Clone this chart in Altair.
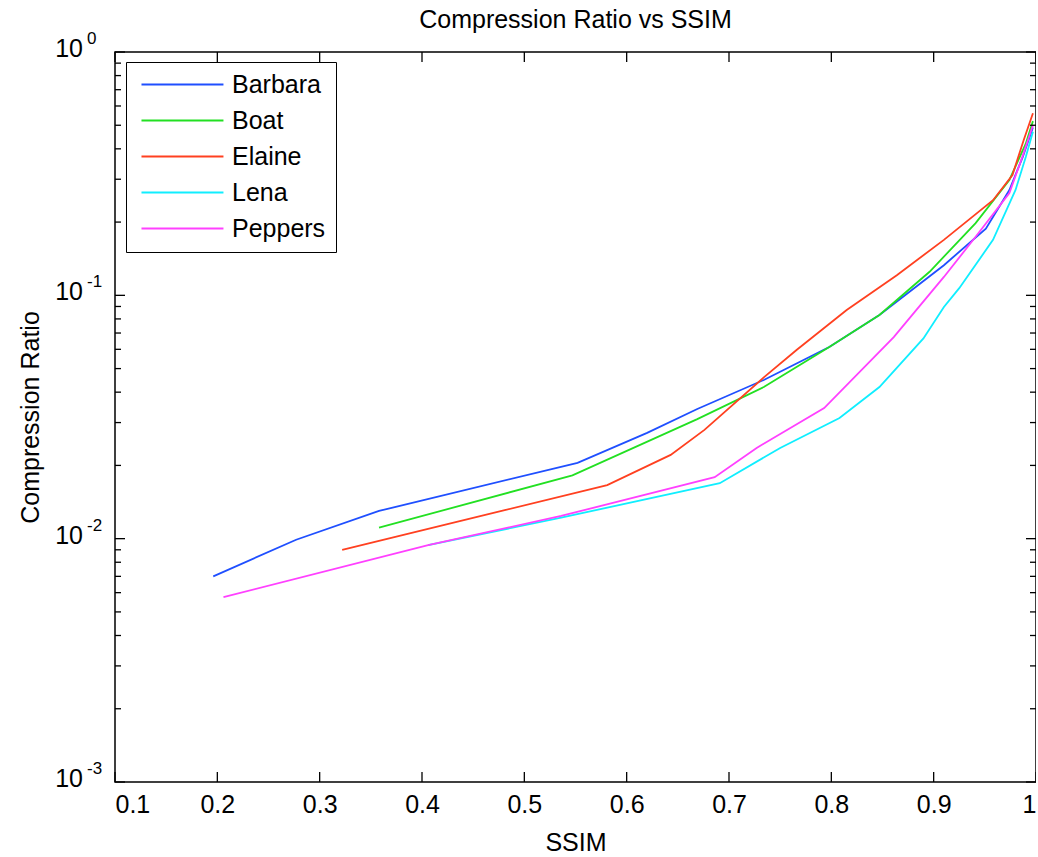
import altair as alt
import pandas as pd

FONT = "Liberation Sans"

names = ["Barbara", "Boat", "Elaine", "Lena", "Peppers"]
colors = ["#1f4fff", "#22e022", "#ff4020", "#10eeff", "#ff40ff"]

barbara_x = [0.196, 0.277, 0.358, 0.552, 0.620, 0.669, 0.734, 0.798, 0.847, 0.910, 0.951, 0.974, 0.987, 0.997]
barbara_y = [0.0070, 0.0099, 0.0130, 0.0205, 0.0272, 0.0341, 0.0449, 0.0613, 0.083, 0.133, 0.188, 0.271, 0.37, 0.49]

boat_x = [0.358, 0.547, 0.669, 0.734, 0.798, 0.847, 0.896, 0.941, 0.974, 0.990, 0.997]
boat_y = [0.0111, 0.0182, 0.031, 0.042, 0.0613, 0.083, 0.125, 0.198, 0.298, 0.42, 0.52]

elaine_x = [0.322, 0.581, 0.643, 0.676, 0.734, 0.766, 0.815, 0.864, 0.910, 0.958, 0.977, 0.988, 0.997]
elaine_y = [0.0090, 0.0166, 0.0221, 0.028, 0.046, 0.0596, 0.087, 0.121, 0.169, 0.246, 0.312, 0.435, 0.56]

lena_x = [0.406, 0.536, 0.691, 0.750, 0.808, 0.847, 0.890, 0.910, 0.925, 0.958, 0.980, 0.990, 0.997]
lena_y = [0.0094, 0.0122, 0.0169, 0.0236, 0.0313, 0.042, 0.0665, 0.0895, 0.107, 0.169, 0.271, 0.37, 0.47]

peppers_x = [0.206, 0.406, 0.536, 0.686, 0.727, 0.793, 0.861, 0.910, 0.941, 0.974, 0.988, 0.997]
peppers_y = [0.00575, 0.0094, 0.0124, 0.0179, 0.0236, 0.0344, 0.0674, 0.119, 0.174, 0.263, 0.385, 0.50]

x_ticks = [0.1, 0.2, 0.3, 0.4, 0.5, 0.6, 0.7, 0.8, 0.9, 1.0]
y_major = [1.0, 0.1, 0.01, 0.001]
y_exponents = ["0", "-1", "-2", "-3"]
y_minor = [0.002, 0.003, 0.004, 0.005, 0.006, 0.007, 0.008, 0.009,
           0.02, 0.03, 0.04, 0.05, 0.06, 0.07, 0.08, 0.09,
           0.2, 0.3, 0.4, 0.5, 0.6, 0.7, 0.8, 0.9]
title_text = ["Compression Ratio vs SSIM"]

series = [
    ("Barbara", barbara_x, barbara_y),
    ("Boat", boat_x, boat_y),
    ("Elaine", elaine_x, elaine_y),
    ("Lena", lena_x, lena_y),
    ("Peppers", peppers_x, peppers_y),
]
rows = []
for name, xs, ys in series:
    for i, (xv, yv) in enumerate(zip(xs, ys)):
        rows.append({"name": name, "ssim": xv, "ratio": yv, "order": i})
df = pd.DataFrame(rows)

W, H = 921, 730
xscale = alt.Scale(domain=[0.1, 1.0], nice=False, zero=False)
yscale = alt.Scale(type="log", domain=[0.001, 1], nice=False)

x_axis = alt.Axis(values=x_ticks, format="~g", tickSize=0, domain=False, grid=False,
                  labelFontSize=25, labelFont=FONT, labelColor="black", labelPadding=10,
                  title="SSIM", titleFont=FONT, titleFontSize=25, titleFontWeight="normal",
                  titleColor="black", titleY=68, titleBaseline="alphabetic")
y_axis = alt.Axis(values=y_major, labels=False, ticks=False, domain=False, grid=False,
                  title="Compression Ratio", titleFont=FONT, titleFontSize=25,
                  titleFontWeight="normal", titleColor="black", titleX=-77,
                  titleBaseline="alphabetic")

lines = alt.Chart(df).mark_line(strokeWidth=1.8, clip=True).encode(
    x=alt.X("ssim:Q", scale=xscale, axis=x_axis),
    y=alt.Y("ratio:Q", scale=yscale, axis=y_axis),
    color=alt.Color("name:N", scale=alt.Scale(domain=names, range=colors),
                    legend=alt.Legend(title=None, orient="none", legendX=11, legendY=10,
                                      fillColor="white", strokeColor="black", padding=10,
                                      symbolType="M-1.37,0H14.63", symbolSize=105,
                                      symbolStrokeWidth=1.8,
                                      labelFont=FONT, labelFontSize=25, labelColor="black",
                                      labelOffset=71, rowPadding=10)),
    order="order:Q",
)

xt = pd.DataFrame({"v": x_ticks})
ymaj = pd.DataFrame({"v": y_major, "base": ["10"] * 4, "exp": y_exponents})
ymin = pd.DataFrame({"v": y_minor})
tdf = pd.DataFrame({"t": title_text})

xx = alt.X("v:Q", scale=xscale, axis=x_axis)
yy = alt.Y("v:Q", scale=yscale, axis=y_axis)

tick_style = dict(color="black", strokeWidth=1.3)
xb = alt.Chart(xt).mark_rule(**tick_style).encode(x=xx, y=alt.value(H), y2=alt.value(H - 10))
xtp = alt.Chart(xt).mark_rule(**tick_style).encode(x=xx, y=alt.value(0), y2=alt.value(10))
yl = alt.Chart(ymaj).mark_rule(**tick_style).encode(y=yy, x=alt.value(0), x2=alt.value(10))
yr = alt.Chart(ymaj).mark_rule(**tick_style).encode(y=yy, x=alt.value(W), x2=alt.value(W - 10))
yml = alt.Chart(ymin).mark_rule(**tick_style).encode(y=yy, x=alt.value(0), x2=alt.value(6))
ymr = alt.Chart(ymin).mark_rule(**tick_style).encode(y=yy, x=alt.value(W), x2=alt.value(W - 6))

base_lbl = alt.Chart(ymaj).mark_text(align="right", baseline="alphabetic", font=FONT,
                                     fontSize=25, color="black", dy=5).encode(
    y=yy, x=alt.value(-32), text="base:N")
exp_lbl = alt.Chart(ymaj).mark_text(align="left", baseline="alphabetic", font=FONT,
                                    fontSize=17, color="black", dy=-8).encode(
    y=yy, x=alt.value(-28), text="exp:N")

title_mark = alt.Chart(tdf).mark_text(align="center", baseline="alphabetic", font=FONT,
                                      fontSize=25, color="black").encode(
    x=alt.value(W / 2), y=alt.value(-24), text="t:N")

chart = alt.layer(lines, xb, xtp, yl, yr, yml, ymr, base_lbl, exp_lbl, title_mark).properties(
    width=W, height=H,
    autosize=alt.AutoSizeParams(type="none"),
    padding={"left": 115, "top": 52, "right": 0, "bottom": 73},
).configure(background="white").configure_view(stroke="black", strokeWidth=1.5)

chart.save("out.html", embed_options={"renderer": "svg", "actions": False})
